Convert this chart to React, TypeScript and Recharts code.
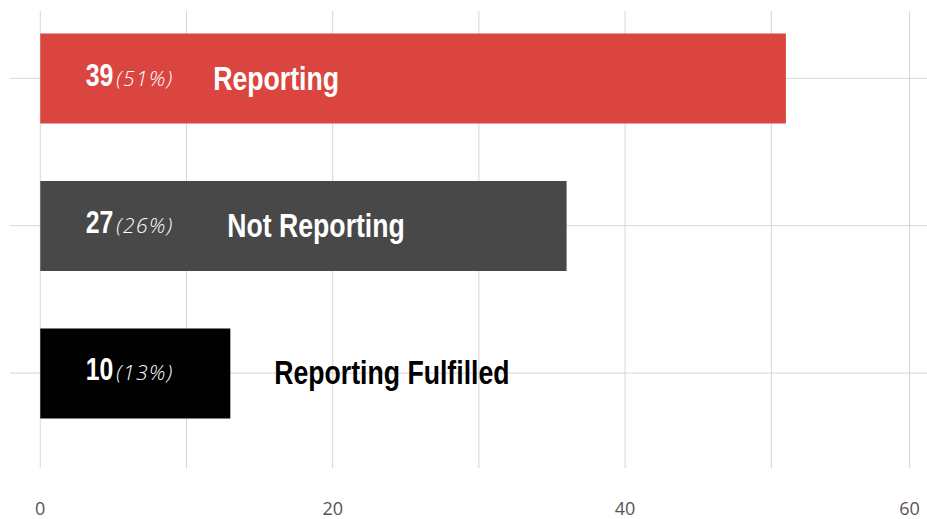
import React from "react";
import { BarChart, Bar, XAxis, YAxis, CartesianGrid, Cell } from "recharts";

const categories = ["Reporting", "Not Reporting", "Reporting Fulfilled"];
const counts = [39, 27, 10];
const percents = [51, 26, 13];
const barValues = [51, 36, 13];
const tickValues = [0, 10, 20, 30, 40, 50, 59.46];
const tickLabels = ["0", "", "20", "", "40", "", "60"];

const barColors = ["#DA4540", "#484848", "#000000"];
const nameColors = ["#ffffff", "#ffffff", "#000000"];
const nameOffsets = [173, 187, 234];

const data = categories.map((name, i) => ({
  name,
  value: barValues[i],
  count: counts[i],
  pct: percents[i],
}));

const BOLD = "'Liberation Sans', Arial, sans-serif";

const BarLabel = (props: any) => {
  const { x, y, height, index } = props;
  const cy = y + height / 2;
  const d = data[index];
  return (
    <g>
      <text
        transform={`translate(${x + 73}, ${cy + 7}) scale(0.8, 1)`}
        x={0}
        y={0}
        textAnchor="end"
        fill="#ffffff"
        fontFamily={BOLD}
        fontWeight={700}
        fontSize={31}
      >
        {d.count}
      </text>
      <text
        x={x + 76}
        y={cy + 7}
        textAnchor="start"
        fill="#ffffff"
        fontFamily="'Open Sans', sans-serif"
        fontStyle="italic"
        fontWeight={300}
        fontSize={21}
        letterSpacing={1.4}
      >
        {`(${d.pct}%)`}
      </text>
      <text
        transform={`translate(${x + nameOffsets[index]}, ${cy + 11}) scale(0.82, 1)`}
        x={0}
        y={0}
        textAnchor="start"
        fill={nameColors[index]}
        fontFamily={BOLD}
        fontWeight={700}
        fontSize={32.5}
      >
        {d.name}
      </text>
    </g>
  );
};

export default function App() {
  return (
    <div style={{ position: "absolute", left: 0, top: 0, width: 927, height: 519 }}>
      <BarChart
        width={927}
        height={519}
        layout="vertical"
        data={data}
        margin={{ top: 11, right: 0, left: 10, bottom: 0 }}
        barSize={90}
      >
        <CartesianGrid stroke="#d6d6d6" strokeWidth={1} syncWithTicks />
        <XAxis
          type="number"
          domain={[-2.07, 60.65]}
          ticks={tickValues}
          allowDataOverflow
          interval={0}
          axisLine={false}
          tickLine={false}
          tickSize={0}
          tickMargin={34}
          height={51}
          tick={{ fill: "#555555", fontSize: 18, fontFamily: "'Open Sans', sans-serif" }}
          tickFormatter={(v: number) => tickLabels[tickValues.indexOf(v)] ?? ""}
        />
        <YAxis
          type="category"
          dataKey="name"
          hide
          padding={{ top: -6.4, bottom: 21.2 }}
        />
        <Bar dataKey="value" isAnimationActive={false} label={BarLabel}>
          {data.map((d, i) => (
            <Cell key={d.name} fill={barColors[i]} />
          ))}
        </Bar>
      </BarChart>
    </div>
  );
}
